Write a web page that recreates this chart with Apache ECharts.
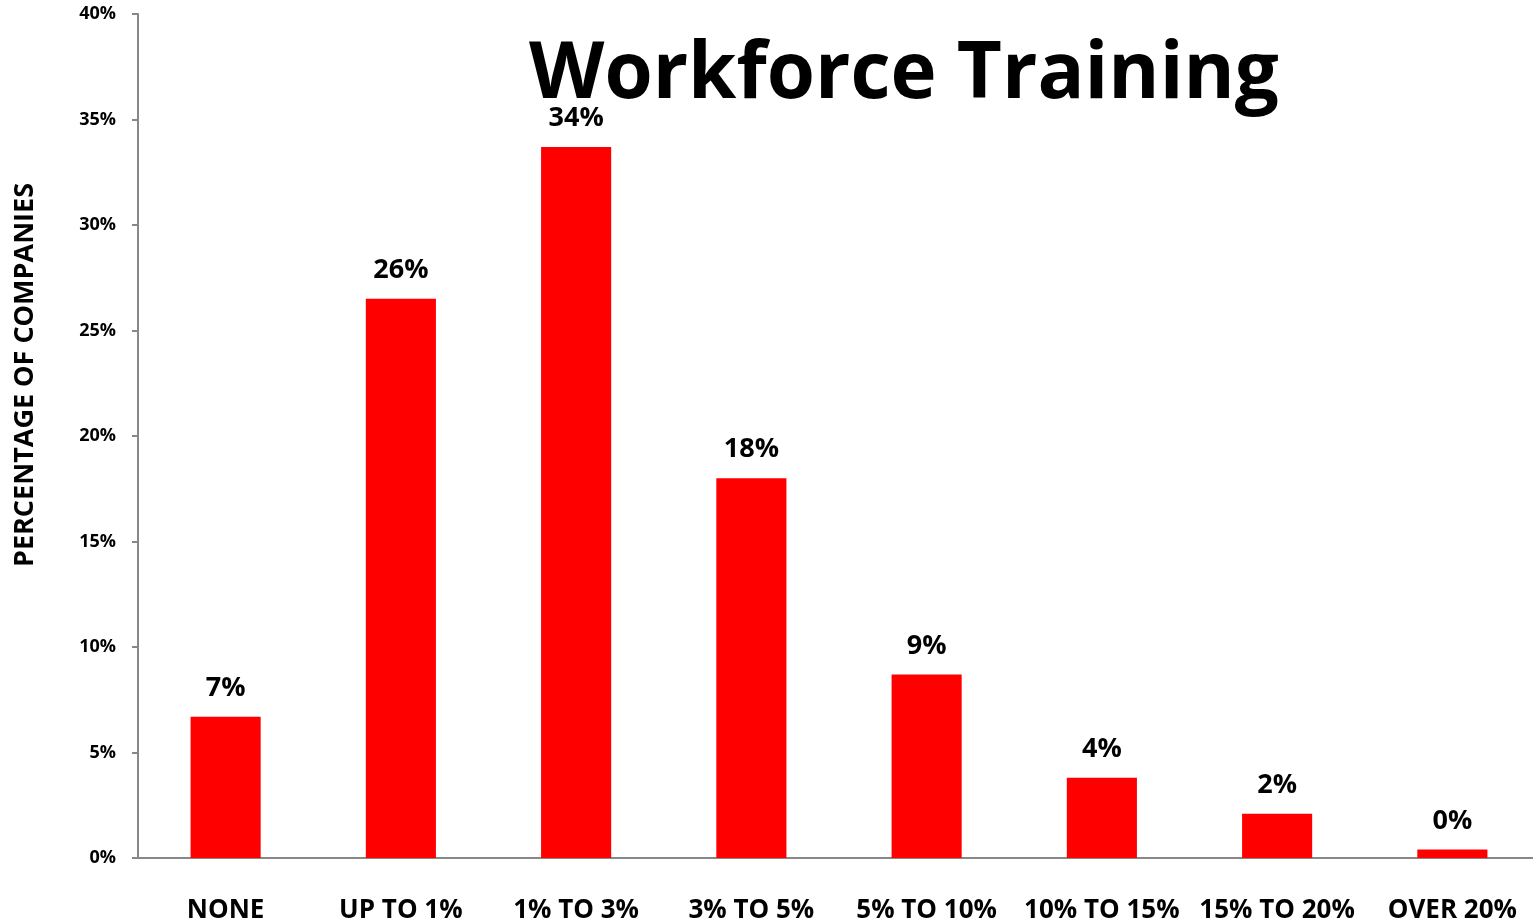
<!DOCTYPE html>
<html><head><meta charset="utf-8">
<script src="https://cdn.jsdelivr.net/npm/echarts@6/dist/echarts.min.js"></script>
<style>html,body{margin:0;padding:0;background:#fff;overflow:hidden}#c{width:1545px;height:924px}</style>
</head><body><div id="c"></div>
<script>
const categories = ['NONE','UP TO 1%','1% TO 3%','3% TO 5%','5% TO 10%','10% TO 15%','15% TO 20%','OVER 20%'];
const values = [6.7, 26.5, 33.7, 18.0, 8.7, 3.8, 2.1, 0.4];
const labels = ['7%','26%','34%','18%','9%','4%','2%','0%'];
const FONT = 'Open Sans';
const chart = echarts.init(document.getElementById('c'));
chart.setOption({
  animation: false,
  backgroundColor: '#fff',
  textStyle: {fontFamily: FONT},
  grid: {left: 138, top: 14, width: 1402, height: 845},
  graphic: [
    {type:'text', left: 529, top: 37, style:{text:'Workforce Training', font:'bold 78px "Open Sans"', fill:'#000'}},
    {type:'text', x: 25, y: 375, rotation: Math.PI/2, style:{text:'PERCENTAGE OF COMPANIES', font:'bold 27px "Open Sans"', fill:'#000', align:'center', verticalAlign:'middle'}}
  ],
  xAxis: {
    type: 'category', data: categories,
    axisLine: {lineStyle:{color:'#888', width: 2}},
    axisTick: {show:false},
    axisLabel: {color:'#000', fontWeight:'bold', fontSize: 26, fontFamily: FONT, margin: 40, interval: 0}
  },
  yAxis: {
    type: 'value', min: 0, max: 40, interval: 5,
    splitLine: {show:false},
    axisLine: {show:true, lineStyle:{color:'#888', width: 2}},
    axisTick: {show:true, length: 6, lineStyle:{color:'#888', width: 2}},
    axisLabel: {color:'#000', fontWeight:'bold', fontSize: 18, fontFamily: FONT, margin: 22, formatter: v => v + '%'}
  },
  series: [{
    type: 'bar', data: values, barWidth: '40%',
    itemStyle: {color: '#ff0000'},
    label: {show: true, position: 'top', distance: 15, color:'#000', fontWeight:'bold', fontSize: 27, fontFamily: FONT,
      formatter: p => labels[p.dataIndex]}
  }]
});
</script></body></html>
